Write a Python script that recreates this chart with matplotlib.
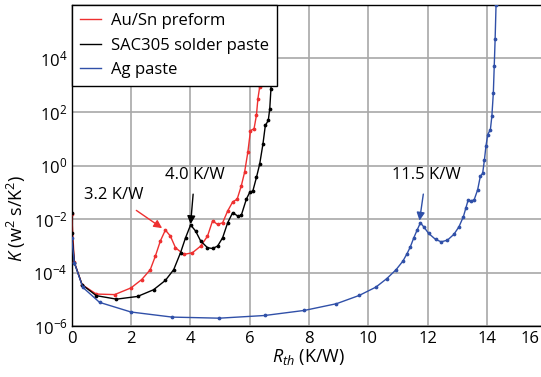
import matplotlib
matplotlib.use("Agg")
import matplotlib.pyplot as plt
from matplotlib.transforms import offset_copy
import numpy as np

plt.rcParams['font.family'] = ['Open Sans', 'DejaVu Sans']
plt.rcParams['mathtext.fontset'] = 'custom'
plt.rcParams['mathtext.rm'] = 'Open Sans'
plt.rcParams['mathtext.it'] = 'Open Sans:italic'

# Structure function data: thermal resistance (K/W) and log10 of K (W^2 s/K^2)
ausn_r = [0.0, 0.09, 0.35, 0.83, 1.45, 2.0, 2.36, 2.65, 2.82, 2.99, 3.16, 3.33, 3.5, 3.78,
          4.07, 4.35, 4.58, 4.75, 4.92, 5.09, 5.26, 5.43, 5.58, 5.72, 5.83, 5.94, 6.03,
          6.15, 6.23, 6.28, 6.34, 6.38, 6.42]
ausn_logk = [-1.81, -3.6, -4.44, -4.79, -4.81, -4.56, -4.25, -3.88, -3.38, -2.81, -2.4, -2.63,
             -3.06, -3.31, -3.25, -3.0, -2.63, -2.06, -2.19, -2.13, -1.69, -1.35, -1.25,
             -0.75, -0.25, 0.5, 1.31, 1.38, 1.88, 2.5, 2.94, 4.0, 6.5]

sac_r = [0.0, 0.01, 0.09, 0.35, 0.83, 1.51, 2.22, 2.76, 3.16, 3.44, 3.67, 3.84, 4.01, 4.18,
         4.35, 4.58, 4.75, 4.92, 5.09, 5.26, 5.43, 5.6, 5.72, 5.89, 6.0, 6.11, 6.23, 6.34,
         6.45, 6.53, 6.63, 6.68, 6.72, 6.76, 6.8]
sac_logk = [-1.78, -2.5, -3.62, -4.44, -4.85, -4.98, -4.88, -4.63, -4.28, -3.88, -3.25, -2.69,
            -2.21, -2.44, -2.81, -3.06, -3.09, -3.0, -2.69, -2.13, -1.75, -1.88, -1.85, -1.25,
            -1.0, -0.94, -0.44, 0.06, 0.81, 1.5, 1.69, 2.13, 2.88, 4.2, 6.5]

ag_r = [0.0, 0.09, 0.375, 0.94, 2.0, 3.39, 4.98, 6.51, 7.85, 8.93, 9.7, 10.26, 10.63, 10.94,
        11.17, 11.31, 11.42, 11.53, 11.65, 11.76, 11.87, 12.04, 12.27, 12.46, 12.67, 12.89,
        13.06, 13.21, 13.29, 13.37, 13.46, 13.57, 13.69, 13.78, 13.86, 13.92, 13.97, 14.03,
        14.12, 14.17, 14.22, 14.25, 14.28, 14.31, 14.33]
ag_logk = [-2.69, -3.62, -4.54, -5.1, -5.46, -5.65, -5.69, -5.59, -5.4, -5.15, -4.84, -4.53,
           -4.21, -3.88, -3.56, -3.28, -3.03, -2.71, -2.4, -2.13, -2.28, -2.53, -2.75, -2.84,
           -2.78, -2.56, -2.28, -1.9, -1.59, -1.28, -1.31, -1.28, -0.9, -0.4, -0.28, 0.23,
           0.73, 1.16, 1.35, 1.85, 2.73, 3.73, 4.73, 5.98, 6.5]

x_ticks = [0, 2, 4, 6, 8, 10, 12, 14, 16]
y_ticks = [1e-6, 1e-4, 1e-2, 1e0, 1e2, 1e4]
y_tick_labels = [r'10$^{-6}$', r'10$^{-4}$', r'10$^{-2}$', r'10$^{0}$',
                 r'10$^{2}$', r'10$^{4}$']

RED, BLACK, BLUE = "#ee3030", "#000000", "#3050a8"
series = [
    ("Au/Sn preform", ausn_r, ausn_logk, RED),
    ("SAC305 solder paste", sac_r, sac_logk, BLACK),
    ("Ag paste", ag_r, ag_logk, BLUE),
]

fig = plt.figure(figsize=(5.41, 3.77), dpi=100)
ax = fig.add_axes([0.1325, 0.134, 0.877, 0.853])

for label, r, lk, col in series:
    ax.plot(r, 10.0 ** np.array(lk), color=col, lw=1.0, marker='o', ms=1.7,
            label=label, zorder=3)

ax.set_yscale('log')
ax.set_xlim(0, 16)
ax.set_ylim(1e-6, 1e6)
ax.set_xticks(x_ticks)
# the last x label is pulled inward so it stays inside the figure
ax.set_xticklabels([str(t) for t in x_ticks[:-1]] + [''])
ax.set_yticks(y_ticks)
ax.set_yticklabels(y_tick_labels)
ax.minorticks_off()
ax.tick_params(length=0, labelsize=12, pad=3)
ax.text(x_ticks[-1], 0, str(x_ticks[-1]), fontsize=12, ha='right', va='top',
        transform=offset_copy(ax.get_xaxis_transform(), fig=fig, x=-4.5, y=-3,
                              units='points'))
ax.grid(True, color='#a8a8a8', lw=1.2, zorder=0)
for s in ax.spines.values():
    s.set_color('black')
    s.set_linewidth(1.0)

ax.set_xlabel(r'$R_{th}$ (K/W)', fontsize=13, labelpad=0)
ax.set_ylabel(r'$K$ (w$^2$ s/K$^2$)', fontsize=13)
ax.yaxis.set_label_coords(-0.092, 0.337)

# peak annotations
ax.annotate('3.2 K/W', xy=(3.05, 10 ** -2.33), xytext=(1.42, 10 ** -1.09),
            ha='center', va='center', fontsize=12,
            arrowprops=dict(arrowstyle='-|>', color=RED, lw=1.0,
                            mutation_scale=12, shrinkA=6, shrinkB=0))
ax.annotate('4.0 K/W', xy=(4.01, 10 ** -2.18), xytext=(4.15, 10 ** -0.35),
            ha='center', va='center', fontsize=12,
            arrowprops=dict(arrowstyle='-|>', color=BLACK, lw=1.0,
                            mutation_scale=12, shrinkA=6, shrinkB=0))
ax.annotate('11.5 K/W', xy=(11.73, 10 ** -2.05), xytext=(11.95, 10 ** -0.35),
            ha='center', va='center', fontsize=12,
            arrowprops=dict(arrowstyle='-|>', color=BLUE, lw=1.0,
                            mutation_scale=12, shrinkA=6, shrinkB=0))

leg = ax.legend(loc='upper left', bbox_to_anchor=(0, 1), borderaxespad=0,
                fontsize=12, fancybox=False, edgecolor='black', framealpha=1,
                handlelength=1.25, handletextpad=0.6, borderpad=0.5,
                labelspacing=0.5)
leg.get_frame().set_linewidth(1.0)
for h in leg.legend_handles:
    h.set_marker('')
leg.set_zorder(5)

fig.savefig('out.png', dpi=100)
